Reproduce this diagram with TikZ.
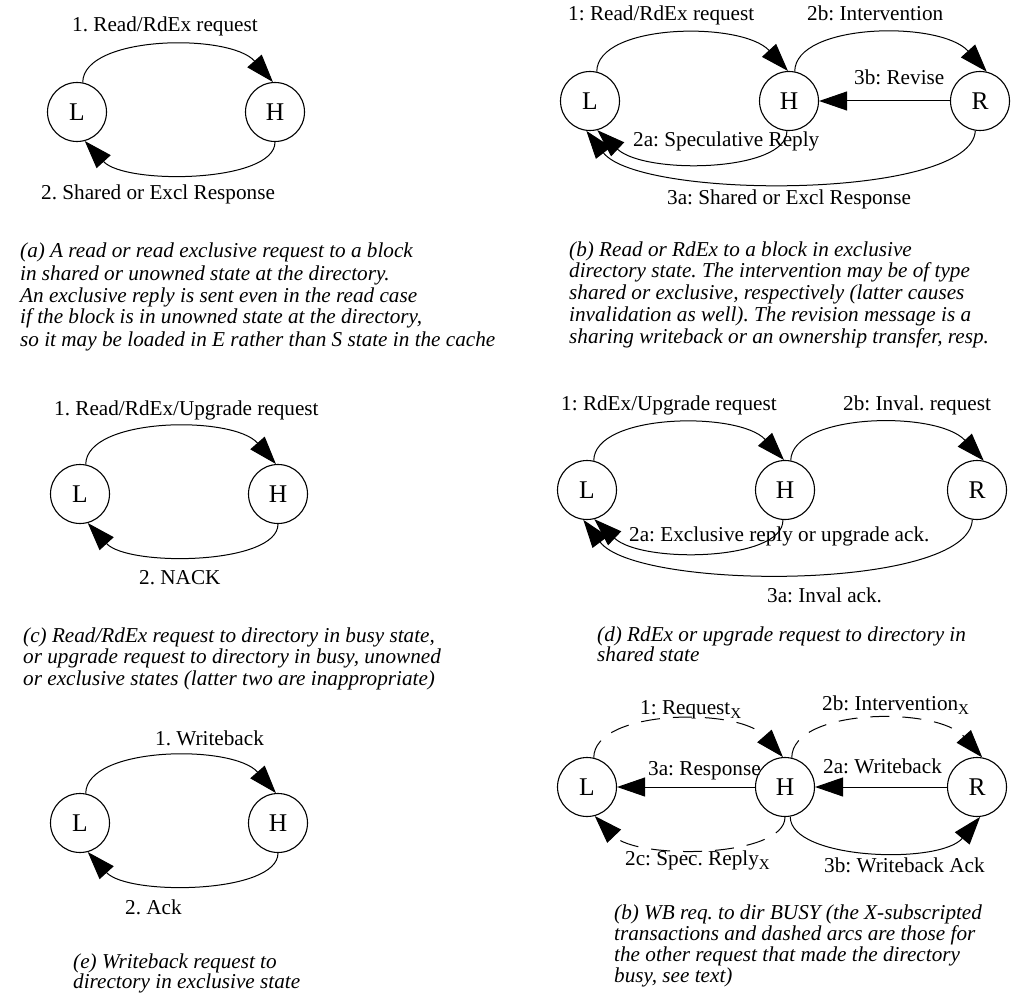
\documentclass[tikz,border=0pt]{standalone}
\usepackage{fontspec}
\setmainfont{Liberation Serif}
\usetikzlibrary{arrows.meta}
\frenchspacing
\newcommand{\subX}{\raisebox{-4.5pt}{\fontsize{15}{15}\selectfont X}}
\newcommand{\captlines}[1]{\begin{tabular}[t]{@{}l@{}}#1\end{tabular}}
\begin{document}
\begin{tikzpicture}[x=1pt,y=-1pt,
  st/.style={circle, draw, line width=1.1pt, minimum size=59pt, inner sep=0pt, font=\fontsize{25.5}{26}\selectfont},
  arr/.style={line width=1pt, -{Triangle[length=28pt,width=19pt]}},
  dsh/.style={arr, dash pattern=on 19pt off 13pt},
  lbl/.style={anchor=base west, inner sep=0pt, font=\frenchspacing\fontsize{21.2}{22}\selectfont},
  capt/.style={anchor=base west, inner sep=0pt, font=\frenchspacing\fontsize{21.2}{#1}\selectfont\itshape},
  capt/.default=21.7
]
\fill[white] (0,0) rectangle (1016,992);
\useasboundingbox (0,0) rectangle (1016,992);

% ---------- (a) ----------
\begin{scope}[shift={(77,112)}]
\node[st] (aL) at (0,0) {L};
\node[st] (aH) at (198,0) {H};
\draw[arr] (aL.79) .. controls (6,-77) and (153,-79) .. (aH.94);
\draw[arr] (aH.-90) .. controls (198,71) and (48,73) .. (aL.-75);
\end{scope}
\node[lbl] (aT1) at (72,32) {1. Read/RdEx request};
\node[lbl] (aT2) at (41,200) {2. Shared or Excl Response};
\node[capt=22] (aC) at (20,258) {\captlines{(a) A read or read exclusive request to a block\\
in shared or unowned state at the directory.\\
An exclusive reply is sent even in the read case\\
if the block is in unowned state at the directory,\\
so it may be loaded in E rather than S state in the cache}};

% ---------- (c) ----------
\begin{scope}[shift={(80,494)}]
\node[st] (cL) at (0,0) {L};
\node[st] (cH) at (198,0) {H};
\draw[arr] (cL.79) .. controls (6,-77) and (153,-79) .. (cH.94);
\draw[arr] (cH.-90) .. controls (198,71) and (48,73) .. (cL.-75);
\end{scope}
\node[lbl] (cT1) at (54,415) {1. Read/RdEx/Upgrade request};
\node[lbl] (cT2) at (139,584) {2. NACK};
\node[capt=21.5] (cC) at (23,642) {\captlines{(c) Read/RdEx request to directory in busy state,\\
or upgrade request to directory in busy, unowned\\
or exclusive states (latter two are inappropriate)}};

% ---------- (e) ----------
\begin{scope}[shift={(80,823)}]
\node[st] (eL) at (0,0) {L};
\node[st] (eH) at (198,0) {H};
\draw[arr] (eL.79) .. controls (6,-77) and (153,-79) .. (eH.94);
\draw[arr] (eH.-90) .. controls (198,71) and (48,73) .. (eL.-75);
\end{scope}
\node[lbl] (eT1) at (155,745) {1. Writeback};
\node[lbl] (eT2) at (125,914) {2. Ack};
\node[capt=19.5] (eC) at (73,968) {\captlines{(e) Writeback request to\\
directory in exclusive state}};

% ---------- (b) ----------
\begin{scope}[shift={(590,101)}]
\node[st] (bL) at (0,0) {L};
\node[st] (bH) at (199,0) {H};
\node[st] (bR) at (390,0) {R};
\draw[arr] (bL.77) .. controls (7,-78) and (152,-80) .. (bH.92);
\draw[arr] (bH.79) .. controls (205,-78) and (350,-81) .. (bR.77);
\draw[arr] (bR.west) -- (bH.east);
\draw[arr] (bH.-94) .. controls (197,71) and (55,74) .. (bL.-76);
\draw[arr] (bR.-99) .. controls (382,99) and (50,99) .. (bL.-97);
\end{scope}
\node[lbl] (bT1) at (568,21) {1: Read/RdEx request};
\node[lbl] (bT2) at (807,21) {2b: Intervention};
\node[lbl] (bT3) at (854,85) {3b: Revise};
\node[lbl] (bT4) at (633,147) {2a: Speculative Reply};
\node[lbl] (bT5) at (667,205) {3a: Shared or Excl Response};
\node[capt=21.8] (bC) at (569,256) {\captlines{(b) Read or RdEx to a block in exclusive\\
directory state. The intervention may be of type\\
shared or exclusive, respectively (latter causes\\
invalidation as well). The revision message is a\\
sharing writeback or an ownership transfer, resp.}};

% ---------- (d) ----------
\begin{scope}[shift={(587,490)}]
\node[st] (dL) at (0,0) {L};
\node[st] (dH) at (198,0) {H};
\node[st] (dR) at (390,0) {R};
\draw[arr] (dL.77) .. controls (7,-77) and (152,-79) .. (dH.92);
\draw[arr] (dH.79) .. controls (205,-77) and (350,-80) .. (dR.77);
\draw[arr] (dH.-94) .. controls (197,71) and (55,74) .. (dL.-76);
\draw[arr] (dR.-99) .. controls (382,101) and (50,101) .. (dL.-97);
\end{scope}
\node[lbl] (dT1) at (561,410) {1: RdEx/Upgrade request};
\node[lbl] (dT2) at (843,410) {2b: Inval. request};
\node[lbl] (dT3) at (629,541) {2a: Exclusive reply or upgrade ack.};
\node[lbl] (dT4) at (767,602) {3a: Inval ack.};
\node[capt=20] (dC) at (597,641) {\captlines{(d) RdEx or upgrade request to directory in\\
shared state}};

% ---------- (f) ----------
\begin{scope}[shift={(587,787)}]
\node[st] (fL) at (0,0) {L};
\node[st] (fH) at (198,0) {H};
\node[st] (fR) at (390,0) {R};
\draw[dsh] (fL.77) .. controls (7,-78) and (152,-80) .. (fH.94);
\draw[dsh] (fH.77) .. controls (205,-79) and (350,-81) .. (fR.80);
\draw[arr] (fH.west) -- (fL.east);
\draw[arr] (fR.west) -- (fH.east);
\draw[dsh] (fH.-90) .. controls (198,71) and (50,73) .. (fL.-75);
\draw[arr] (fH.-80) .. controls (203,73) and (353,78) .. (fR.-84);
\end{scope}
\node[lbl] (fT1) at (640,714) {1: Request\subX};
\node[lbl] (fT2) at (822,710) {2b: Intervention\subX};
\node[lbl] (fT3) at (648,775) {3a: Response};
\node[lbl] (fT4) at (823,773) {2a: Writeback};
\node[lbl] (fT5) at (625,865) {2c: Spec. Reply\subX};
\node[lbl] (fT6) at (824,872) {3b: Writeback Ack};
\node[capt=21.3] (fC) at (614,919) {\captlines{(b) WB req. to dir BUSY (the X-subscripted\\
transactions and dashed arcs are those for\\
the other request that made the directory\\
busy, see text)}};
\end{tikzpicture}
\end{document}
